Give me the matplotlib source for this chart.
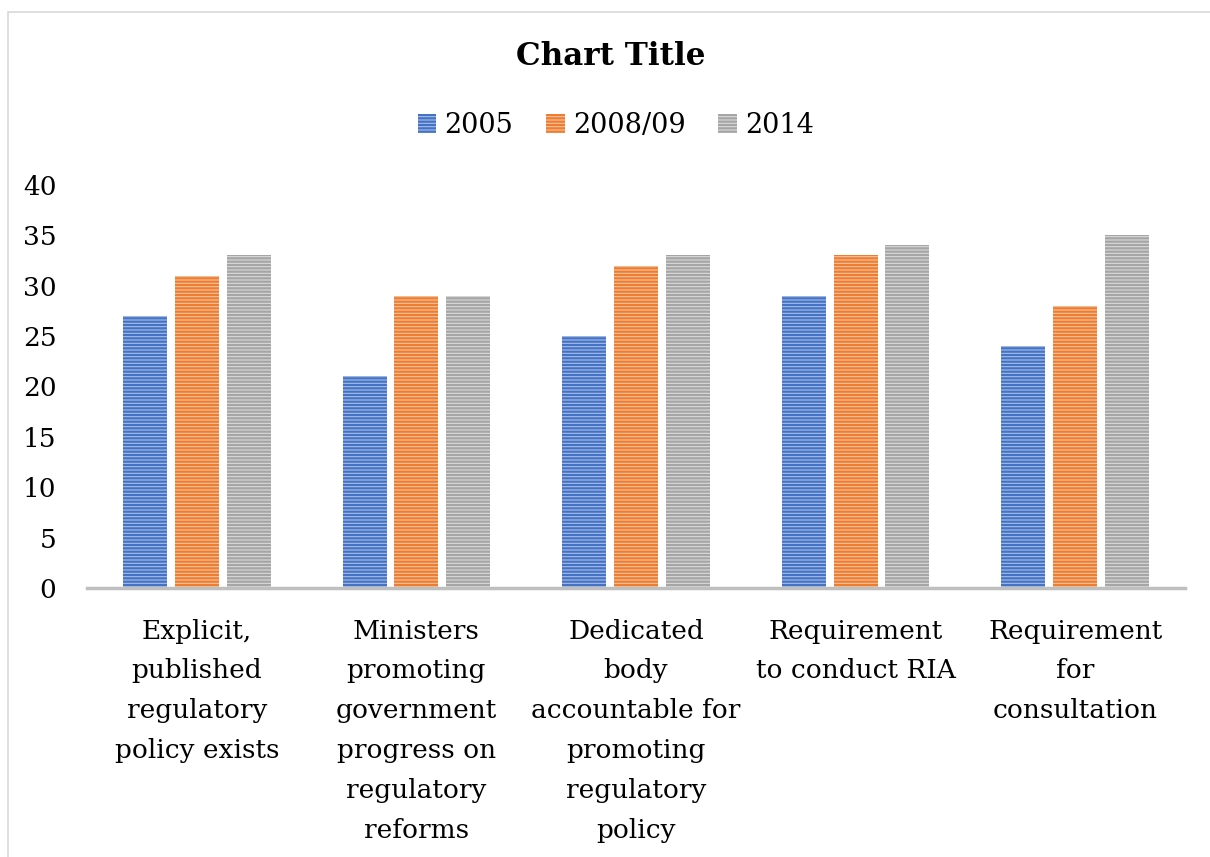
import numpy as np
import matplotlib.pyplot as plt
from matplotlib.patches import Rectangle

categories = ['Explicit,\npublished\nregulatory\npolicy exists',
              'Ministers\npromoting\ngovernment\nprogress on\nregulatory\nreforms',
              'Dedicated\nbody\naccountable for\npromoting\nregulatory\npolicy',
              'Requirement\nto conduct RIA',
              'Requirement\nfor\nconsultation']
series = ['2005', '2008/09', '2014']
v2005 = [27, 21, 25, 29, 24]
v2008 = [31, 29, 32, 33, 28]
v2014 = [33, 29, 33, 34, 35]
yticks = [0, 5, 10, 15, 20, 25, 30, 35, 40]

dark = ['#4472C4', '#ED7D31', '#A5A5A5']
light = ['#A9BEE6', '#F7C3A0', '#DADADA']

plt.rcParams['font.family'] = ['DejaVu Serif']
plt.rcParams['hatch.linewidth'] = 1.6

fig = plt.figure(figsize=(12.1, 8.57), dpi=100)
ax = fig.add_axes([0.0719, 0.3139, 0.9074, 0.4703])

x = np.arange(len(categories))
w = 0.2
offs = [-0.236, 0, 0.236]
for vals, off, c, lc, name in zip([v2005, v2008, v2014], offs, dark, light, series):
    ax.bar(x + off, vals, w, color=lc, edgecolor=c, hatch='-----',
           linewidth=0, label=name)

ax.set_xlim(-0.5, 4.5)
ax.set_ylim(0, 40)
ax.set_yticks(yticks)
ax.set_xticks(x)
ax.set_xticklabels(categories, fontsize=20, linespacing=1.74)
ax.tick_params(axis='both', length=0, labelsize=19)
ax.tick_params(axis='x', pad=22)
ax.tick_params(axis='y', pad=22)
for s in ['top', 'right', 'left']:
    ax.spines[s].set_visible(False)
ax.spines['bottom'].set_color('#BFBFBF')
ax.spines['bottom'].set_linewidth(2.5)

fig.text(0.505, 0.934, 'Chart Title', ha='center', va='center',
         fontsize=22.3, fontweight='bold')
fig.legend(loc='center', bbox_to_anchor=(0.509, 0.854), ncol=3, frameon=False,
           fontsize=19.5, handlelength=0.7, handleheight=0.7,
           handletextpad=0.3, columnspacing=1.2)

fig.patches.append(Rectangle((8 / 1210, -0.1), 1.1, 1.1 - 12 / 857,
                             transform=fig.transFigure, fill=False,
                             edgecolor='#D9D9D9', linewidth=1.2))

fig.savefig('out.png', dpi=100)
